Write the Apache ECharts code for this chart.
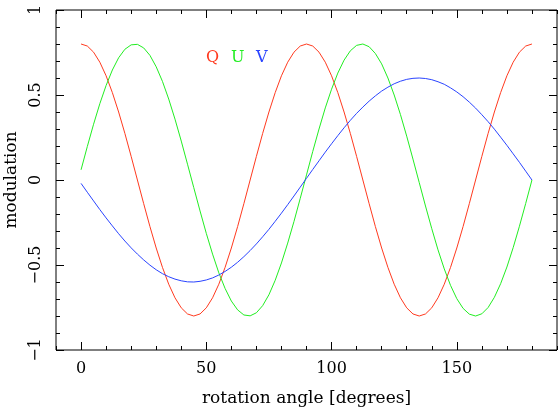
<!DOCTYPE html>
<html>
<head>
<meta charset="utf-8">
<script src="https://cdn.jsdelivr.net/npm/echarts@6/dist/echarts.min.js"></script>
<style>
  html, body { margin: 0; padding: 0; background: #fff; }
  #chart { width: 559px; height: 408px; }
</style>
</head>
<body>
<div id="chart"></div>
<script>
// rotation angle, degrees (sampled every 2.5)
const angles = [0, 2.5, 5, 7.5, 10, 12.5, 15, 17.5, 20, 22.5, 25, 27.5, 30, 32.5, 35, 37.5, 40, 42.5,
  45, 47.5, 50, 52.5, 55, 57.5, 60, 62.5, 65, 67.5, 70, 72.5, 75, 77.5, 80, 82.5, 85, 87.5,
  90, 92.5, 95, 97.5, 100, 102.5, 105, 107.5, 110, 112.5, 115, 117.5, 120, 122.5, 125, 127.5, 130, 132.5,
  135, 137.5, 140, 142.5, 145, 147.5, 150, 152.5, 155, 157.5, 160, 162.5, 165, 167.5, 170, 172.5, 175, 177.5, 180]

const qValues = [0.800, 0.788, 0.752, 0.693, 0.613, 0.514, 0.400, 0.274, 0.139,
  0.000, -0.139, -0.274, -0.400, -0.514, -0.613, -0.693, -0.752, -0.788,
  -0.800, -0.788, -0.752, -0.693, -0.613, -0.514, -0.400, -0.274, -0.139,
  0.000, 0.139, 0.274, 0.400, 0.514, 0.613, 0.693, 0.752, 0.788,
  0.800, 0.788, 0.752, 0.693, 0.613, 0.514, 0.400, 0.274, 0.139,
  0.000, -0.139, -0.274, -0.400, -0.514, -0.613, -0.693, -0.752, -0.788,
  -0.800, -0.788, -0.752, -0.693, -0.613, -0.514, -0.400, -0.274, -0.139,
  0.000, 0.139, 0.274, 0.400, 0.514, 0.613, 0.693, 0.752, 0.788, 0.800]

const uValues = [0.060, 0.197, 0.328, 0.449, 0.556, 0.647, 0.719, 0.769, 0.795,
  0.798, 0.777, 0.733, 0.666, 0.580, 0.476, 0.358, 0.229, 0.093,
  -0.045, -0.182, -0.314, -0.436, -0.546, -0.638, -0.712, -0.764, -0.794,
  -0.799, -0.781, -0.739, -0.675, -0.590, -0.488, -0.371, -0.244, -0.108,
  0.030, 0.168, 0.300, 0.424, 0.534, 0.629, 0.705, 0.760, 0.792,
  0.800, 0.784, 0.744, 0.683, 0.600, 0.500, 0.385, 0.258, 0.123,
  -0.015, -0.153, -0.286, -0.411, -0.523, -0.620, -0.698, -0.755, -0.789,
  -0.800, -0.787, -0.750, -0.690, -0.610, -0.512, -0.398, -0.272, -0.138, 0.000]

const vValues = [-0.020, -0.072, -0.123, -0.174, -0.223, -0.270, -0.316, -0.359, -0.399,
  -0.436, -0.470, -0.501, -0.528, -0.551, -0.569, -0.583, -0.593, -0.599,
  -0.600, -0.596, -0.588, -0.576, -0.559, -0.538, -0.513, -0.484, -0.451,
  -0.415, -0.376, -0.334, -0.290, -0.243, -0.195, -0.145, -0.094, -0.042,
  0.010, 0.062, 0.113, 0.164, 0.213, 0.261, 0.307, 0.351, 0.392,
  0.429, 0.464, 0.495, 0.523, 0.546, 0.566, 0.581, 0.592, 0.598,
  0.600, 0.597, 0.590, 0.578, 0.563, 0.542, 0.518, 0.490, 0.458,
  0.423, 0.384, 0.343, 0.299, 0.252, 0.204, 0.154, 0.104, 0.052, 0.000]

const seriesNames = ['Q', 'U', 'V']
const seriesColors = ['#ff3a1f', '#22ee22', '#2a44ff']

const xTicks = [0, 50, 100, 150]
const yTicks = [-1, -0.5, 0, 0.5, 1]

const font = '"DejaVu Serif", "Liberation Serif", serif'

function pairs (ys) {
  let out = []
  for (let i = 0; i < angles.length; i++) {
    out.push([angles[i], ys[i]])
  }
  return out
}

function fmt (v) {
  return String(v).replace('-', '\u2212')
}

let chart = echarts.init(document.getElementById('chart'), null, { renderer: 'canvas' })

let xBase = {
  type: 'value',
  min: -10,
  max: 190,
  axisLine: { show: false, onZero: false },
  splitLine: { show: false }
}

let yBase = {
  type: 'value',
  min: -1,
  max: 1,
  interval: 0.5,
  axisLine: { show: false, onZero: false },
  splitLine: { show: false },
  axisTick: { inside: true, length: 8, lineStyle: { color: '#000' } },
  minorTick: { show: true, splitNumber: 5, length: 4, lineStyle: { color: '#000' } }
}

let option = {
  animation: false,
  backgroundColor: '#fff',
  grid: {
    left: 56, right: 2, top: 10, bottom: 58,
    outerBoundsMode: 'none',
    containLabel: false,
    show: true, borderColor: '#000', borderWidth: 1, backgroundColor: 'transparent'
  },
  xAxis: [
    Object.assign({}, xBase, {
      position: 'bottom',
      name: 'rotation angle [degrees]',
      nameLocation: 'middle',
      nameGap: 40,
      nameTextStyle: { fontFamily: font, fontSize: 17, color: '#000' },
      axisTick: { inside: true, length: 8, customValues: xTicks, lineStyle: { color: '#000' } },
      axisLabel: {
        customValues: xTicks, margin: 11, fontFamily: font, fontSize: 16, color: '#000',
        formatter: fmt
      }
    }),
    Object.assign({}, xBase, {
      position: 'bottom',
      interval: 10,
      axisTick: { inside: true, length: 4, lineStyle: { color: '#000' } },
      axisLabel: { show: false }
    }),
    Object.assign({}, xBase, {
      position: 'top',
      axisTick: { inside: true, length: 8, customValues: xTicks, lineStyle: { color: '#000' } },
      axisLabel: { show: false }
    }),
    Object.assign({}, xBase, {
      position: 'top',
      interval: 10,
      axisTick: { inside: true, length: 4, lineStyle: { color: '#000' } },
      axisLabel: { show: false }
    })
  ],
  yAxis: [
    Object.assign({}, yBase, {
      position: 'left',
      name: 'modulation',
      nameLocation: 'middle',
      nameGap: 33,
      nameTextStyle: { fontFamily: font, fontSize: 17, color: '#000' },
      axisLabel: {
        rotate: 90, margin: 12, fontFamily: font, fontSize: 16, color: '#000',
        customValues: yTicks,
        formatter: fmt
      }
    }),
    Object.assign({}, yBase, {
      position: 'right',
      axisLabel: { show: false }
    })
  ],
  series: [qValues, uValues, vValues].map(function (vals, i) {
    return {
      name: seriesNames[i],
      type: 'line',
      data: pairs(vals),
      smooth: false,
      showSymbol: false,
      lineStyle: { color: seriesColors[i], width: 1 },
      itemStyle: { color: seriesColors[i] }
    }
  }),
  graphic: seriesNames.map(function (n, i) {
    return {
      type: 'text',
      left: 206 + i * 25,
      top: 50,
      style: { text: n, fill: seriesColors[i], font: '16px ' + font }
    }
  })
}

chart.setOption(option)
</script>
</body>
</html>
